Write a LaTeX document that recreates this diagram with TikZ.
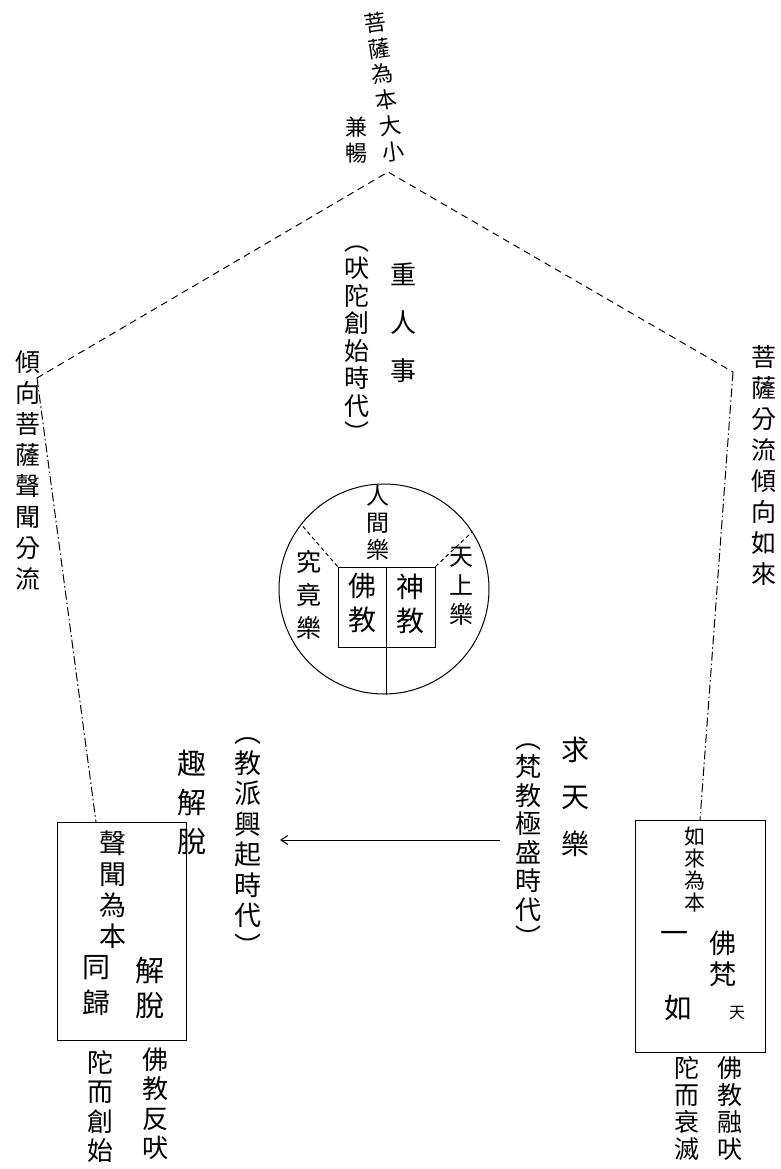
\documentclass[tikz,border=0pt]{standalone}
\usepackage{fontspec}
\newfontfamily\cjk{Noto Sans CJK TC}
\usetikzlibrary{arrows.meta}
\newcommand\cjfs[2]{\cjk\fontsize{#1}{#2}\selectfont}
\begin{document}
\begin{tikzpicture}[x=1pt,y=-1pt, line width=1pt,
  vt/.style={align=center, inner sep=0pt, anchor=north},
  ch/.style={inner sep=0pt},
  side/.style={dash pattern=on 7pt off 5pt},
  sidev/.style={dash pattern=on 9pt off 3pt on 1.5pt off 3pt},
  sector/.style={dash pattern=on 4pt off 3pt},
  boxn/.style={draw, rectangle, inner sep=0pt},
]
\useasboundingbox (0,0) rectangle (781,1169);

% pentagon vertices
\coordinate (top) at (388,172);
\coordinate (lv) at (37,378);
\coordinate (rv) at (733,372);

% boxes
\node[boxn, minimum width=129pt, minimum height=218pt] (lbox) at (121.5,931) {};
\node[boxn, minimum width=130pt, minimum height=232pt] (rbox) at (700,936) {};
\coordinate (ltop) at (96,822);
\coordinate (rtop) at (700,820);

\draw[side] (lv) -- (top) -- (rv);
\draw[sidev] (lv) -- (ltop);
\draw[sidev] (rv) -- (rtop);

% central circle
\node[draw, circle, minimum size=210pt, inner sep=0pt] (circ) at (384,589) {};
\node[boxn, minimum width=97pt, minimum height=80pt] (ibox) at (386.5,607) {};
\draw (ibox.north) -- (ibox.north |- circ.south);
\draw[sector] (ibox.north west) -- (circ.142);
\draw[sector] (ibox.north east) -- (circ.33);

% arrow
\coordinate (a1) at (500,840);
\coordinate (a2) at (280,840);
\draw[-{Straight Barb[length=7pt,width=9pt]}] (a1) -- (a2);

% top texts
\node[vt, font=\cjfs{22}{26}, rotate=8] (t1) at (374,12) {菩\\薩\\為\\本\\大\\小};
\node[vt, font=\cjfs{22}{26}] (t2) at (356,116) {兼\\暢};
\node[vt, font=\cjfs{25}{31}] (t3) at (28,350) {傾\\向\\菩\\薩\\聲\\聞\\分\\流};
\node[vt, font=\cjfs{25}{31}] (t4) at (764,345) {菩\\薩\\分\\流\\傾\\向\\如\\來};
\node[vt, font=\cjfs{26}{48}] (t5) at (403,262) {重\\人\\事};
\node[vt, font=\cjfs{25}{27.5}] (t6) at (357,245) {︵\\吠\\陀\\創\\始\\時\\代\\︶};

% circle texts
\node[vt, font=\cjfs{23}{27}] (c1) at (378,485) {人\\間\\樂};
\node[vt, font=\cjfs{25}{33}] (c2) at (309,550) {究\\竟\\樂};
\node[vt, font=\cjfs{24}{29}] (c3) at (461,547) {天\\上\\樂};
\node[vt, font=\cjfs{28}{34}] (c4) at (362,573) {佛\\教};
\node[vt, font=\cjfs{28}{34}] (c5) at (410,573) {神\\教};

% middle texts
\node[vt, font=\cjfs{29}{39}] (m1) at (192,750) {趣\\解\\脫};
\node[vt, font=\cjfs{27}{30.5}] (m2) at (248,737) {︵\\教\\派\\興\\起\\時\\代\\︶};
\node[vt, font=\cjfs{28}{47}] (m3) at (575,737) {求\\天\\樂};
\node[vt, font=\cjfs{26}{28.5}] (m4) at (528,743) {︵\\梵\\教\\極\\盛\\時\\代\\︶};

% left box texts
\node[vt, font=\cjfs{27}{31}] (l1) at (113,830) {聲\\聞\\為\\本};
\node[vt, font=\cjfs{29}{35}] (l2) at (150,957) {解\\脫};
\node[vt, font=\cjfs{28}{36}] (l3) at (96,955) {同\\歸};
\node[vt, font=\cjfs{26}{29.5}] (l4) at (155,1047) {佛\\教\\反\\吠};
\node[vt, font=\cjfs{26}{29.5}] (l5) at (100,1050) {陀\\而\\創\\始};

% right box texts
\node[vt, font=\cjfs{21}{22}] (r1) at (695,826) {如\\來\\為\\本};
\node[ch, font=\cjfs{28}{28}] (r2) at (674,937) {一};
\node[ch, font=\cjfs{28}{28}] (r3) at (678,1008) {如};
\node[vt, font=\cjfs{27}{31}] (r4) at (723,930) {佛\\梵};
\node[ch, font=\cjfs{16}{16}] (r5) at (737,1013) {天};
\node[vt, font=\cjfs{25}{27}] (r6) at (730,1056) {佛\\教\\融\\吠};
\node[vt, font=\cjfs{25}{27}] (r7) at (687,1056) {陀\\而\\衰\\滅};
\end{tikzpicture}
\end{document}
